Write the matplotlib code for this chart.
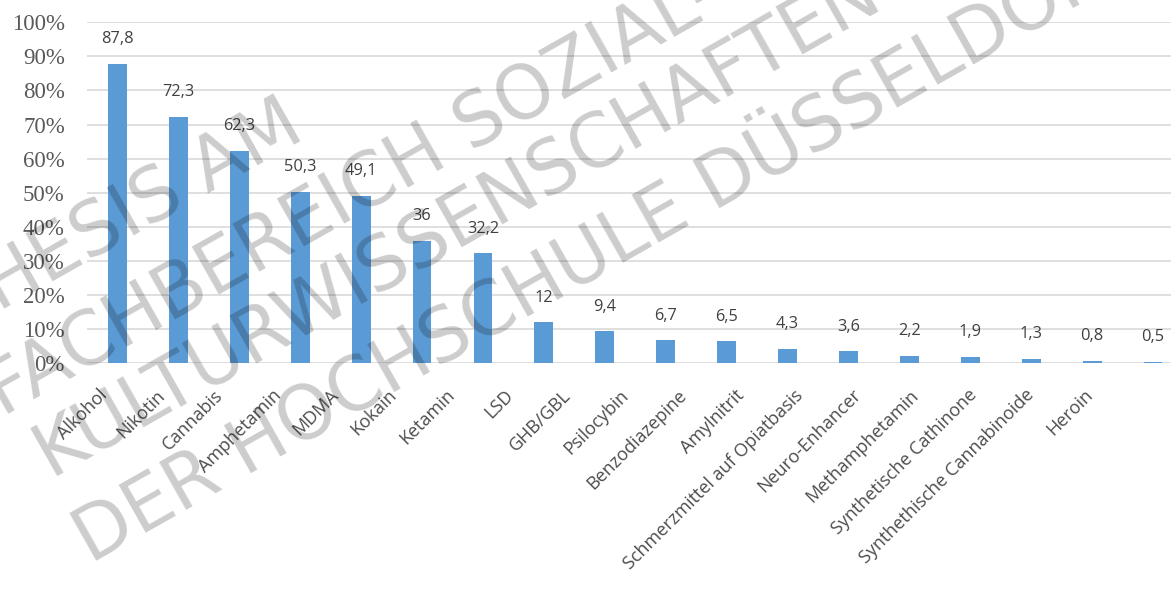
import matplotlib
matplotlib.use("Agg")
import matplotlib.pyplot as plt

# Werte aus der Abbildung (Lebenszeitprävalenz in %)
substanzen = ['Alkohol', 'Nikotin', 'Cannabis', 'Amphetamin', 'MDMA', 'Kokain',
              'Ketamin', 'LSD', 'GHB/GBL', 'Psilocybin', 'Benzodiazepine',
              'Amylnitrit', 'Schmerzmittel auf Opiatbasis', 'Neuro-Enhancer',
              'Methamphetamin', 'Synthetische Cathinone',
              'Synthethische Cannabinoide', 'Heroin']
werte = [87.8, 72.3, 62.3, 50.3, 49.1, 36, 32.2, 12, 9.4, 6.7, 6.5, 4.3,
         3.6, 2.2, 1.9, 1.3, 0.8, 0.5]
y_ticks = list(range(0, 101, 10))

watermark_lines = ['THESIS AM', 'FACHBEREICH SOZIAL- UND',
                   'KULTURWISSENSCHAFTEN', 'DER HOCHSCHULE DÜSSELDORF']

W, H = 1171, 594
fig = plt.figure(figsize=(W / 100, H / 100), dpi=100)
ax = fig.add_axes([87 / W, 1 - 363.3 / H, 1096.5 / W, 341 / H])

x = list(range(len(werte)))
ax.bar(x, werte, width=0.31, color='#5B9BD5', zorder=3)

for xi, v in zip(x, werte):
    ax.annotate(f"{v:g}".replace('.', ','), (xi, v), xytext=(0, 17.6),
                textcoords='offset points', ha='center', va='center',
                fontsize=11.8, family='Open Sans', color='#404040')

ax.set_xlim(-0.5, len(werte) - 0.5)
ax.set_ylim(0, 100)
ax.set_yticks(y_ticks)
ax.set_yticklabels([f"{t}%" for t in y_ticks], family='Liberation Serif',
                   fontsize=16.5, color='#595959')
ax.tick_params(axis='y', length=0, pad=16)
ax.set_xticks([])
ax.grid(axis='y', color='#d9d9d9', linewidth=1.2, zorder=0)
for s in ax.spines.values():
    s.set_visible(False)

# category labels on their own axis (they sit a little closer together)
ax2 = ax.twiny()
ax2.set_xlim(-0.30, 18.62)
ax2.xaxis.set_ticks_position('bottom')
ax2.set_xticks(x)
ax2.set_xticklabels(substanzen, rotation=45, ha='right', va='center',
                    rotation_mode='anchor', family='Open Sans', fontsize=13,
                    color='#4d4d4d')
ax2.tick_params(axis='x', length=0, pad=21)
for s in ax2.spines.values():
    s.set_visible(False)

# Wasserzeichen
starts = [(-50, 316), (-8, 399), (40, 458), (80, 546)]
for txt, (px, py) in zip(watermark_lines, starts):
    fig.text(px / W, 1 - py / H, txt, rotation=29.5, rotation_mode='anchor',
             ha='left', va='center', fontsize=53, family='DejaVu Sans',
             color='black', alpha=0.2, zorder=10)

fig.savefig('out.png', dpi=100)
